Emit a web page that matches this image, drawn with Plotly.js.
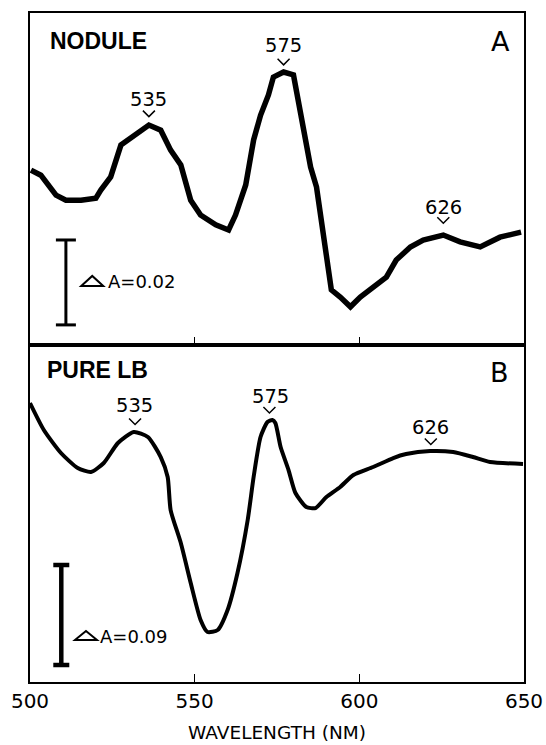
<!DOCTYPE html>
<html>
<head>
<meta charset="utf-8">
<script src="https://cdn.plot.ly/plotly-3.0.1.min.js"></script>
<style>html,body{margin:0;padding:0;background:#fff;}#chart{width:546px;height:745px;}</style>
</head>
<body>
<div id="chart"></div>
<script>
// Panel A: NODULE (difference absorbance, arbitrary zero)
const noduleWl = [500.3,503.3,507.9,510.9,515.5,520.0,521.5,524.5,527.6,532.1,536.1,539.7,542.7,545.8,548.8,551.8,556.4,560.3,562.4,565.5,567.9,570.0,572.4,573.9,577.0,580.0,581.5,583.9,585.2,587.0,589.1,590.0,591.5,594.2,597.3,600.3,604.2,608.2,611.2,615.5,619.4,625.5,630.6,636.7,642.7,649.1];
const noduleA  = [0.0407,0.0395,0.0348,0.0336,0.0336,0.0341,0.0360,0.0391,0.0466,0.0489,0.0513,0.0501,0.0454,0.0419,0.0336,0.0301,0.0278,0.0266,0.0301,0.0372,0.0478,0.0536,0.0584,0.0626,0.0638,0.0631,0.0572,0.0478,0.0414,0.0367,0.0259,0.0202,0.0125,0.0108,0.0085,0.0108,0.0132,0.0155,0.0195,0.0226,0.0242,0.0254,0.0238,0.0226,0.0249,0.0261];

// Panel B: PURE LB
const pureWl = [500.0,504.2,509.4,514.5,518.5,522.4,526.7,531.5,535.8,539.7,541.8,542.7,545.8,548.8,551.8,553.9,557.0,560.0,563.0,566.1,567.9,570.0,572.1,573.6,574.5,576.1,578.5,580.6,583.9,586.7,590.0,594.2,598.2,604.2,610.3,614.2,621.5,628.5,634.5,639.7,649.7];
const pureA  = [0.2511,0.2268,0.2061,0.1926,0.1890,0.1971,0.2151,0.2250,0.2205,0.2025,0.1845,0.1548,0.1251,0.0891,0.0558,0.0450,0.0468,0.0648,0.0981,0.1458,0.1845,0.2205,0.2340,0.2358,0.2331,0.2115,0.1908,0.1701,0.1575,0.1566,0.1665,0.1755,0.1863,0.1935,0.2016,0.2052,0.2079,0.2070,0.2025,0.1980,0.1962];

// Peak labels (text, label x, label y, caret y)
const peakTextA = ["535","575","626"];
const peakXA    = [536.1,577.0,625.5];
const peakYA    = [0.0574,0.0701,0.0318];
const caretYA   = [0.0540,0.0662,0.0289];

const peakTextB = ["535","575","626"];
const peakXB    = [531.7,573.0,621.7];
const peakYB    = [0.2493,0.2570,0.2295];
const caretXB   = [531.9,572.7,621.7];
const caretYB   = [0.2345,0.2448,0.2165];

// Scale bars (delta-absorbance)
const barA = {x:510.9, y0:0.00424, size:0.02, label:"A=0.02", triX:518.9, triY:0.01341, labelX:523.0, labelY:0.01435};
const barB = {x:509.5, y0:0.0153, size:0.09, label:"A=0.09", triX:517.0, triY:0.0378, labelX:520.6, labelY:0.0414};

const tickWl = [500,550,600,650];

const FONT = "DejaVu Sans, sans-serif";

const traces = [
  {x: noduleWl, y: noduleA, xaxis:'x', yaxis:'y', mode:'lines', line:{color:'#000', width:5.5}, hoverinfo:'skip'},
  {x: pureWl, y: pureA, xaxis:'x2', yaxis:'y2', mode:'lines', line:{color:'#000', width:4, shape:'spline', smoothing:0.6}, hoverinfo:'skip'}
];

const annotations = [];
const shapes = [];
function addPeaks(texts, xs, ys, cxs, cys, xr, yr){
  texts.forEach((t,i)=>{
    annotations.push({x:xs[i], y:ys[i], xref:xr, yref:yr, text:t, showarrow:false, font:{family:FONT, size:19.5, color:'#000'}, xanchor:'center', yanchor:'middle'});
    shapes.push({type:'path', xref:xr, yref:yr, xsizemode:'pixel', ysizemode:'pixel', xanchor:cxs[i], yanchor:cys[i], path:'M-6,3 L0,-3 L6,3', line:{color:'#000', width:1.5}});
  });
}
addPeaks(peakTextA, peakXA, peakYA, peakXA, caretYA, 'x', 'y');
addPeaks(peakTextB, peakXB, peakYB, caretXB, caretYB, 'x2', 'y2');

function addBar(b, xr, yr, w, serif, triW, triH){
  shapes.push({type:'line', xref:xr, yref:yr, x0:b.x, x1:b.x, y0:b.y0, y1:b.y0+b.size, line:{color:'#000', width:w}});
  [b.y0, b.y0+b.size].forEach(yy=>{
    shapes.push({type:'line', xref:xr, yref:yr, xsizemode:'pixel', xanchor:b.x, x0:-serif, x1:serif, y0:yy, y1:yy, line:{color:'#000', width:w}});
  });
  shapes.push({type:'path', xref:xr, yref:yr, xsizemode:'pixel', ysizemode:'pixel', xanchor:b.triX, yanchor:b.triY,
    path:'M'+(-triW/2)+',0 L'+(triW/2)+',0 L0,'+triH+' Z', line:{color:'#000', width:2}});
  annotations.push({x:b.labelX, y:b.labelY, xref:xr, yref:yr,
    text:b.label, showarrow:false,
    font:{family:FONT, size:18, color:'#000'}, xanchor:'left', yanchor:'middle'});
}
addBar(barA, 'x', 'y', 3, 10, 22, 10);
addBar(barB, 'x2', 'y2', 4.5, 8, 22, 9);

annotations.push({x:520.9, y:0.0711, xref:'x', yref:'y', text:'<b>NODULE</b>', showarrow:false, font:{family:'Liberation Sans, Arial, sans-serif', size:23, color:'#000'}, xanchor:'center', yanchor:'middle'});
annotations.push({x:643.0, y:0.0711, xref:'x', yref:'y', text:'A', showarrow:false, font:{family:FONT, size:27, color:'#000'}, xanchor:'center', yanchor:'middle'});
annotations.push({x:520.5, y:0.2804, xref:'x2', yref:'y2', text:'<b>PURE LB</b>', showarrow:false, font:{family:'Liberation Sans, Arial, sans-serif', size:23, color:'#000'}, xanchor:'center', yanchor:'middle'});
annotations.push({x:642.7, y:0.2790, xref:'x2', yref:'y2', text:'B', showarrow:false, font:{family:FONT, size:27, color:'#000'}, xanchor:'center', yanchor:'middle'});

const axLine = {showline:true, linecolor:'#000', linewidth:2, mirror:true, showgrid:false, zeroline:false};

const layout = {
  width:546, height:745,
  margin:{l:30, r:22, t:13, b:63},
  paper_bgcolor:'#fff', plot_bgcolor:'#fff',
  showlegend:false,
  xaxis: Object.assign({}, axLine, {range:[500,650], domain:[0,1], anchor:'y', tickvals:[550,600], ticks:'inside', ticklen:8, tickwidth:1.5, tickcolor:'#000', showticklabels:false}),
  yaxis: Object.assign({}, axLine, {range:[-0.0005,0.0777], domain:[0.5037,1], anchor:'x', ticks:'', showticklabels:false}),
  xaxis2: Object.assign({}, axLine, {range:[500,650], domain:[0,1], anchor:'y2', tickvals:tickWl, ticktext:tickWl.map(String), ticks:'inside', ticklen:8, tickwidth:1.5, tickcolor:'#000', tickfont:{family:FONT, size:20, color:'#000'},
    title:{text:'WAVELENGTH (NM)', font:{family:FONT, size:18.5, color:'#000'}, standoff:14}}),
  yaxis2: Object.assign({}, axLine, {range:[0,0.3033], domain:[0,0.5037], anchor:'x2', ticks:'', showticklabels:false}),
  annotations: annotations,
  shapes: shapes
};

Plotly.newPlot('chart', traces, layout, {displayModeBar:false, staticPlot:true});
</script>
</body>
</html>
